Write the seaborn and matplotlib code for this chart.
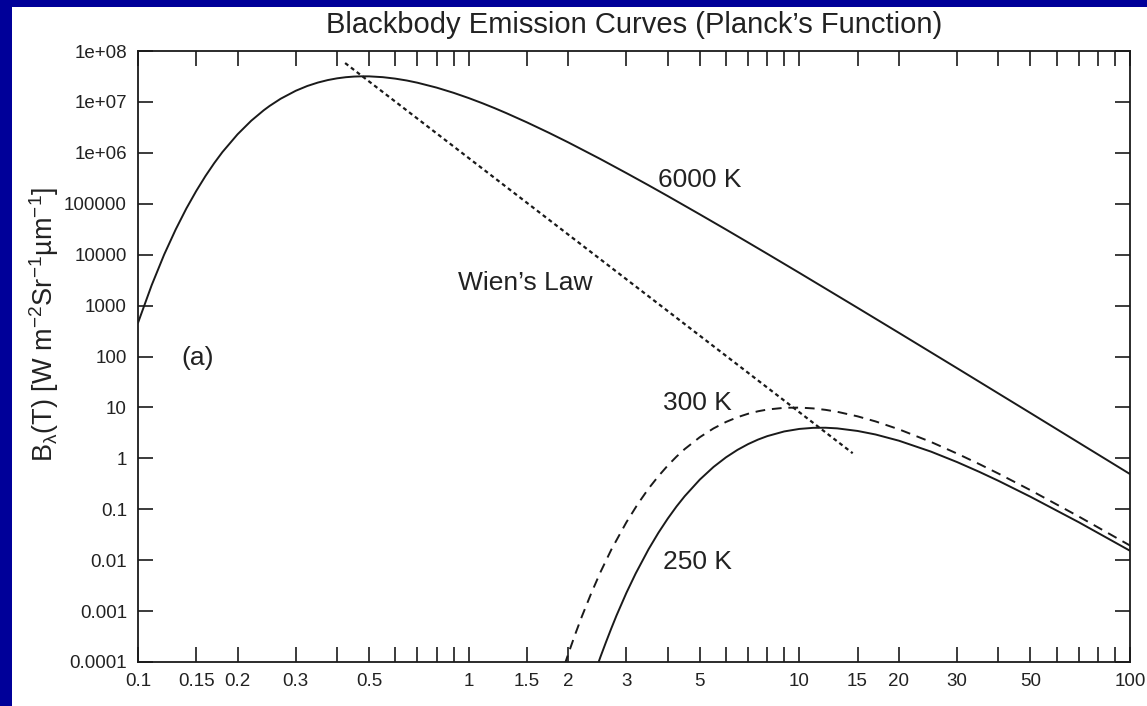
import matplotlib
matplotlib.use("Agg")
import matplotlib.pyplot as plt
from matplotlib.patches import Rectangle
from matplotlib.ticker import FixedLocator, FixedFormatter, NullLocator
import seaborn as sns

# Spectral radiance B_lambda(T) [W m^-2 sr^-1 um^-1] against wavelength [um]
wl_6000 = [0.1, 0.11, 0.12, 0.13, 0.14, 0.15, 0.16, 0.17, 0.18, 0.2, 0.22,
           0.24, 0.25, 0.27, 0.3, 0.325, 0.35, 0.375, 0.4, 0.425, 0.45, 0.475,
           0.5, 0.55, 0.6, 0.65, 0.7, 0.8, 0.9, 1.0, 1.1, 1.2, 1.3, 1.5, 1.75,
           2, 2.5, 3, 3.5, 4, 5, 6, 7, 8, 10, 15, 20, 30, 40, 50, 70, 100]
b_6000 = [458, 2520, 1.007e4, 3.12e4, 8.05e4, 1.78e5, 3.51e5, 6.27e5, 1.035e6,
          2.31e6, 4.27e6, 6.85e6, 8.33e6, 1.154e7, 1.656e7, 2.054e7, 2.40e7,
          2.687e7, 2.905e7, 3.057e7, 3.146e7, 3.183e7, 3.176e7, 3.063e7,
          2.866e7, 2.633e7, 2.382e7, 1.909e7, 1.510e7, 1.191e7, 9.43e6, 7.51e6,
          6.02e6, 3.97e6, 2.47e6, 1.606e6, 7.58e5, 4.00e5, 2.305e5, 1.417e5,
          6.19e4, 3.12e4, 1.734e4, 1.04e4, 4395, 904, 292, 58.9, 18.8, 7.76,
          2.03, 0.491]

wl_300 = [1.95, 2.0, 2.1, 2.2, 2.35, 2.5, 2.7, 3, 3.25, 3.5, 3.75, 4, 4.25,
          4.5, 5, 5.5, 6, 6.5, 7, 7.5, 8, 9, 10, 11, 12, 13, 15, 17, 20, 25, 30,
          35, 40, 50, 70, 100]
b_300 = [8.8e-5, 1.43e-4, 3.51e-4, 7.87e-4, 2.27e-3, 5.71e-3, 1.61e-2,
         5.57e-2, 0.128, 0.255, 0.448, 0.722, 1.079, 1.518, 2.60, 3.865, 5.18,
         6.42, 7.51, 8.40, 9.08, 9.83, 9.92, 9.57, 8.96, 8.23, 6.68, 5.31,
         3.72, 2.10, 1.24, 0.772, 0.502, 0.237, 0.0720, 0.0194]

wl_250 = [2.45, 2.5, 2.6, 2.7, 2.8, 3, 3.2, 3.5, 3.75, 4, 4.25, 4.5, 5, 5.5,
          6, 6.5, 7, 7.5, 8, 9, 10, 11, 12, 13, 15, 17, 20, 25, 30, 35, 40, 50,
          70, 100]
b_250 = [8.5e-5, 1.23e-4, 2.43e-4, 4.57e-4, 8.2e-4, 2.29e-3, 5.49e-3,
         1.64e-2, 3.47e-2, 6.55e-2, 0.113, 0.180, 0.382, 0.676, 1.046, 1.466,
         1.904, 2.334, 2.73, 3.374, 3.78, 3.97, 3.99, 3.88, 3.45, 2.94, 2.22,
         1.356, 0.844, 0.543, 0.362, 0.176, 0.0556, 0.0153]

# Locus of the emission peaks (Wien's displacement law)
wien_wl = [0.423, 14.5]
wien_b = [5.8e7, 1.26]

x_ticks = [0.1, 0.15, 0.2, 0.3, 0.4, 0.5, 0.6, 0.7, 0.8, 0.9, 1, 1.5, 2, 3, 4,
           5, 6, 7, 8, 9, 10, 15, 20, 30, 40, 50, 60, 70, 80, 90, 100]
x_labels = ["0.1", "0.15", "0.2", "0.3", "", "0.5", "", "", "", "", "1", "1.5",
            "2", "3", "", "5", "", "", "", "", "10", "15", "20", "30", "", "50",
            "", "", "", "", "100"]
y_ticks = [1e-4, 1e-3, 1e-2, 1e-1, 1, 10, 100, 1e3, 1e4, 1e5, 1e6, 1e7, 1e8]
y_labels = ["0.0001", "0.001", "0.01", "0.1", "1", "10", "100", "1000",
            "10000", "100000", "1e+06", "1e+07", "1e+08"]

sns.set_theme(style="white")
plt.rcParams["font.family"] = ["Liberation Sans", "DejaVu Sans"]
plt.rcParams["mathtext.fontset"] = "custom"
plt.rcParams["mathtext.rm"] = "Liberation Sans"
plt.rcParams["mathtext.it"] = "Liberation Sans"
plt.rcParams["mathtext.default"] = "regular"

W, H = 1147, 706
fig = plt.figure(figsize=(W / 100, H / 100), dpi=100, facecolor="#000099")
fig.patches.append(Rectangle((12 / W, 0), 1 - 12 / W, 1 - 7 / H,
                             transform=fig.transFigure, facecolor="white",
                             edgecolor="none", zorder=-10))
ax = fig.add_axes([138 / W, 44 / H, 992 / W, 611 / H])
ax.set_zorder(1)
ax.set_facecolor("white")

ink = "#1a1a1a"
lw = 1.4
sns.lineplot(x=wl_6000, y=b_6000, ax=ax, color=ink, lw=lw, estimator=None)
sns.lineplot(x=wl_300, y=b_300, ax=ax, color=ink, lw=lw, estimator=None,
             linestyle=(0, (5, 3.5)))
sns.lineplot(x=wl_250, y=b_250, ax=ax, color=ink, lw=lw, estimator=None)
sns.lineplot(x=wien_wl, y=wien_b, ax=ax, color=ink, lw=1.6, estimator=None,
             linestyle=(0, (1.8, 1.5)))

ax.set_xscale("log")
ax.set_yscale("log")
ax.set_xlim(0.1, 100)
ax.set_ylim(1e-4, 1e8)

ax.xaxis.set_major_locator(FixedLocator(x_ticks))
ax.xaxis.set_major_formatter(FixedFormatter(x_labels))
ax.xaxis.set_minor_locator(NullLocator())
ax.yaxis.set_major_locator(FixedLocator(y_ticks))
ax.yaxis.set_major_formatter(FixedFormatter(y_labels))
ax.yaxis.set_minor_locator(NullLocator())

ax.tick_params(which="major", direction="in", length=11, width=1.2,
               color=ink, labelcolor="#222222", labelsize=13.5, pad=8,
               top=True, right=True, bottom=True, left=True)
for s in ax.spines.values():
    s.set_visible(True)
    s.set_color(ink)
    s.set_linewidth(1.3)

ax.set_title("Blackbody Emission Curves (Planck\u2019s Function)",
             fontsize=21, color="#222222", pad=13)
ax.set_ylabel("B$_{\u03bb}$(T) [W m$^{-2}$Sr$^{-1}$\u00b5m$^{-1}$]",
              fontsize=19.5, color="#222222", va="center")
ax.yaxis.set_label_coords(-0.0948, 0.553)

lab = dict(fontsize=19, color="#222222", ha="left", va="center")
ax.text(3.735, 2.92e5, "6000 K", **lab)
ax.text(0.928, 2768, "Wien\u2019s Law", **lab)
ax.text(0.135, 93, "(a)", **lab)
ax.text(3.87, 12.1, "300 K", **lab)
ax.text(3.87, 0.00914, "250 K", **lab)

fig.savefig("out.png", dpi=100, facecolor=fig.get_facecolor())
